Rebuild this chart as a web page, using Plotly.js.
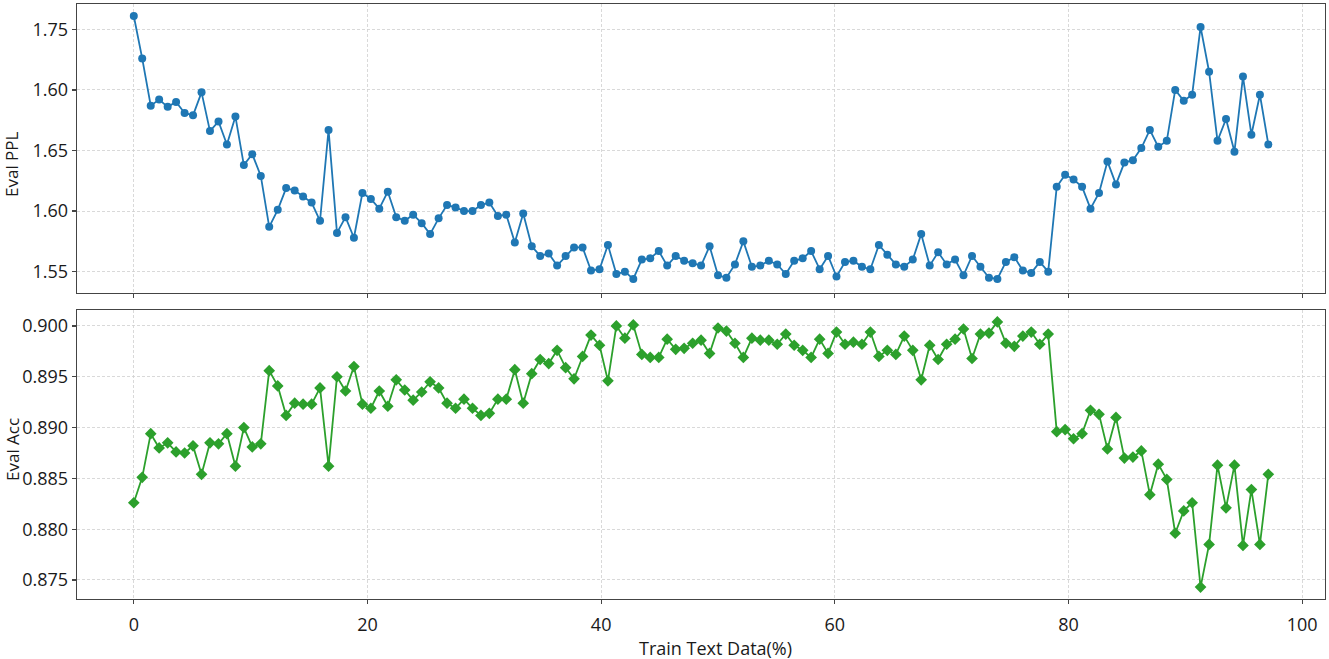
<!DOCTYPE html>
<html>
<head>
<meta charset="utf-8">
<script src="https://cdn.plot.ly/plotly-3.0.1.min.js"></script>
<style>html,body{margin:0;padding:0;background:#fff}#chart{width:1329px;height:659px}</style>
</head>
<body>
<div id="chart"></div>
<script>
const trainPct = [0,0.72,1.45,2.17,2.90,3.62,4.35,5.07,5.80,6.52,7.25,7.97,8.70,9.42,10.14,10.87,11.59,12.32,13.04,13.77,
14.49,15.22,15.94,16.67,17.39,18.12,18.84,19.57,20.29,21.01,21.74,22.46,23.19,23.91,24.64,25.36,26.09,26.81,27.54,28.26,
28.99,29.71,30.43,31.16,31.88,32.61,33.33,34.06,34.78,35.51,36.23,36.96,37.68,38.41,39.13,39.86,40.58,41.30,42.03,42.75,
43.48,44.20,44.93,45.65,46.38,47.10,47.83,48.55,49.28,50.00,50.72,51.45,52.17,52.90,53.62,54.35,55.07,55.80,56.52,57.25,
57.97,58.70,59.42,60.14,60.87,61.59,62.32,63.04,63.77,64.49,65.22,65.94,66.67,67.39,68.12,68.84,69.57,70.29,71.01,71.74,
72.46,73.19,73.91,74.64,75.36,76.09,76.81,77.54,78.26,78.99,79.71,80.43,81.16,81.88,82.61,83.33,84.06,84.78,85.51,86.23,
86.96,87.68,88.41,89.13,89.86,90.58,91.30,92.03,92.75,93.48,94.20,94.93,95.65,96.38,97.10];

const evalPPL = [1.761,1.726,1.687,1.692,1.686,1.690,1.681,1.679,1.698,1.666,1.674,1.655,1.678,1.638,1.647,1.629,1.587,1.601,1.619,1.617,
1.612,1.607,1.592,1.667,1.582,1.595,1.578,1.615,1.610,1.602,1.616,1.595,1.592,1.597,1.590,1.581,1.594,1.605,1.603,1.600,
1.600,1.605,1.607,1.596,1.597,1.574,1.598,1.571,1.563,1.565,1.555,1.563,1.570,1.570,1.551,1.552,1.572,1.548,1.550,1.544,
1.560,1.561,1.567,1.555,1.563,1.559,1.557,1.555,1.571,1.547,1.545,1.556,1.575,1.554,1.555,1.559,1.556,1.548,1.559,1.561,
1.567,1.552,1.563,1.546,1.558,1.559,1.554,1.552,1.572,1.564,1.556,1.554,1.560,1.581,1.555,1.566,1.556,1.560,1.547,1.563,
1.554,1.545,1.544,1.558,1.562,1.551,1.549,1.558,1.550,1.620,1.630,1.626,1.620,1.602,1.615,1.641,1.622,1.640,1.642,1.652,
1.667,1.653,1.658,1.700,1.691,1.696,1.752,1.715,1.658,1.676,1.649,1.711,1.663,1.696,1.655];

const evalAcc = [0.8826,0.8851,0.8894,0.8880,0.8885,0.8876,0.8875,0.8882,0.8854,0.8885,0.8884,0.8894,0.8862,0.8900,0.8881,0.8884,0.8956,0.8941,0.8912,0.8924,
0.8923,0.8923,0.8939,0.8862,0.8950,0.8936,0.8960,0.8923,0.8919,0.8936,0.8921,0.8947,0.8937,0.8927,0.8935,0.8945,0.8939,0.8924,0.8919,0.8928,
0.8919,0.8912,0.8914,0.8928,0.8928,0.8957,0.8924,0.8953,0.8967,0.8963,0.8976,0.8959,0.8948,0.8970,0.8991,0.8981,0.8946,0.9000,0.8988,0.9001,
0.8972,0.8969,0.8969,0.8987,0.8977,0.8978,0.8983,0.8986,0.8973,0.8998,0.8995,0.8983,0.8969,0.8988,0.8986,0.8986,0.8982,0.8992,0.8981,0.8976,
0.8969,0.8987,0.8973,0.8994,0.8982,0.8984,0.8982,0.8994,0.8970,0.8976,0.8972,0.8990,0.8976,0.8947,0.8981,0.8967,0.8982,0.8987,0.8997,0.8968,
0.8992,0.8993,0.9004,0.8983,0.8980,0.8990,0.8994,0.8982,0.8992,0.8896,0.8898,0.8889,0.8894,0.8917,0.8913,0.8879,0.8910,0.8870,0.8871,0.8877,
0.8834,0.8864,0.8849,0.8796,0.8818,0.8826,0.8743,0.8785,0.8863,0.8821,0.8863,0.8784,0.8839,0.8785,0.8854];

const pplTickVals = [1.55, 1.60, 1.65, 1.70, 1.75];
const pplTickText = ['1.55', '1.60', '1.65', '1.60', '1.75'];
const accTickVals = [0.875, 0.880, 0.885, 0.890, 0.895, 0.900];
const accTickText = ['0.875', '0.880', '0.885', '0.890', '0.895', '0.900'];
const xTickVals = [0, 20, 40, 60, 80, 100];

const FONT = 'Open Sans, Noto Sans, sans-serif';
const TXT = '#1a1a1a';
const frame = {
  showline: true, mirror: true, linecolor: '#444', linewidth: 1.3,
  ticks: 'outside', ticklen: 4, tickcolor: '#444', tickwidth: 1.2,
  showgrid: true, gridcolor: '#cfcfcf', griddash: '3px,2px', gridwidth: 0.8,
  zeroline: false, tickfont: {family: FONT, size: 18, color: TXT}
};

const traces = [
  {x: trainPct, y: evalPPL, type: 'scatter', mode: 'lines+markers', xaxis: 'x', yaxis: 'y',
   line: {color: '#1f77b4', width: 1.8}, marker: {color: '#1f77b4', size: 8, symbol: 'circle'}},
  {x: trainPct, y: evalAcc, type: 'scatter', mode: 'lines+markers', xaxis: 'x2', yaxis: 'y2',
   line: {color: '#2ca02c', width: 1.8}, marker: {color: '#2ca02c', size: 9, symbol: 'diamond'}}
];

const xr = [-4.86, 101.95];
const layout = {
  width: 1329, height: 659,
  margin: {l: 77, r: 4, t: 4, b: 60},
  paper_bgcolor: '#fff', plot_bgcolor: '#fff',
  showlegend: false,
  font: {family: FONT, color: TXT},
  xaxis: Object.assign({}, frame, {domain: [0, 1], anchor: 'y', range: xr, tickvals: xTickVals, showticklabels: false, matches: 'x2'}),
  yaxis: Object.assign({}, frame, {domain: [0.5143, 1], anchor: 'x', range: [1.5324, 1.7709],
    tickvals: pplTickVals, ticktext: pplTickText}),
  xaxis2: Object.assign({}, frame, {domain: [0, 1], anchor: 'y2', range: xr, tickvals: xTickVals, ticklabelstandoff: 5}),
  yaxis2: Object.assign({}, frame, {domain: [0, 0.4857], anchor: 'x2', range: [0.87313, 0.90157],
    tickvals: accTickVals, ticktext: accTickText}),
  annotations: [
    {text: 'Train Text Data(%)', xref: 'paper', yref: 'paper', x: 0.512, y: -0.0824,
     xanchor: 'center', yanchor: 'middle', showarrow: false, font: {family: FONT, size: 18, color: TXT}},
    {text: 'Eval PPL', xref: 'paper', yref: 'paper', x: -0.0521, y: 0.7311, textangle: -90,
     xanchor: 'center', yanchor: 'middle', showarrow: false, borderpad: 0, font: {family: FONT, size: 17, color: TXT}},
    {text: 'Eval Acc', xref: 'paper', yref: 'paper', x: -0.0521, y: 0.2521, textangle: -90,
     xanchor: 'center', yanchor: 'middle', showarrow: false, borderpad: 0, font: {family: FONT, size: 17, color: TXT}}
  ]
};

Plotly.newPlot('chart', traces, layout, {displayModeBar: false, staticPlot: true});
</script>
</body>
</html>
